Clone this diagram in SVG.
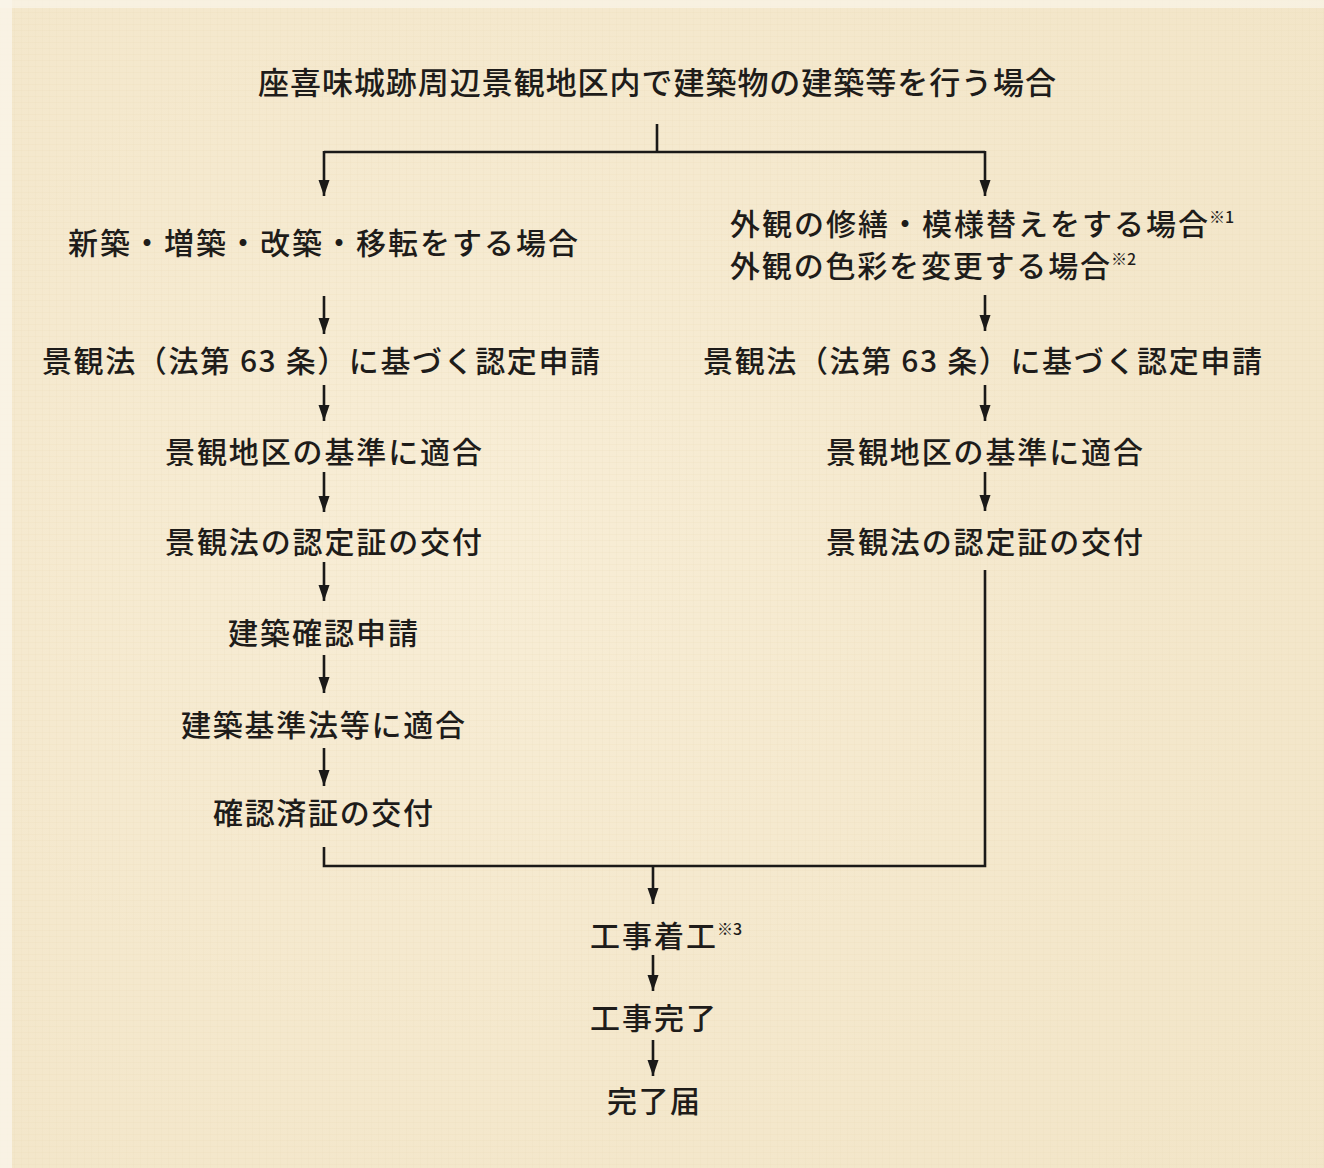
<svg xmlns="http://www.w3.org/2000/svg" width="1324" height="1168" viewBox="0 0 1324 1168">
<style>
.t{font-family:"Noto Sans CJK JP","Noto Sans CJK SC",sans-serif;font-size:30px;font-weight:500;fill:#1e1c1a;}
.title{font-size:31px;}
.sup{font-family:"Noto Sans CJK JP",sans-serif;font-size:16px;font-weight:500;fill:#1e1c1a;}
.c{fill:none;stroke:#1a1918;stroke-width:2.6;}
.a{fill:none;stroke:#1a1918;stroke-width:2.6;marker-end:url(#ah);}
</style>
<defs>
<marker id="ah" viewBox="0 -6 16 12" refX="16" refY="0" markerWidth="16" markerHeight="12" markerUnits="userSpaceOnUse" orient="auto">
<path d="M0,-5.5 L16,0 L0,5.5 z" fill="#1a1918"/>
</marker>
<radialGradient id="g1" cx="0.35" cy="0.45" r="0.75">
<stop offset="0" stop-color="#f9efd9" stop-opacity="0.7"/>
<stop offset="1" stop-color="#efe0bf" stop-opacity="0.5"/>
</radialGradient>
<pattern id="tex" width="7" height="6" patternUnits="userSpaceOnUse">
<path d="M0,0.5 H7" stroke="#e5d5b2" stroke-width="0.6" opacity="0.3"/>
<path d="M0.5,0 V6" stroke="#e8d9b8" stroke-width="0.5" opacity="0.3"/>
</pattern>
</defs>
<rect width="1324" height="1168" fill="#f6ebd2"/>
<rect width="1324" height="1168" fill="url(#g1)"/>
<rect width="1324" height="1168" fill="url(#tex)"/>
<rect x="0" y="0" width="12" height="1168" fill="#faf5ea" opacity="0.8"/>
<rect x="0" y="0" width="1324" height="8" fill="#faf5ea" opacity="0.7"/>

<g id="connectors">
<path class="c" d="M657,124 V152"/>
<path class="c" d="M324,152 H985"/>
<path class="a" d="M324,151 V196"/>
<path class="a" d="M985,151 V196"/>
<path class="a" d="M324,296 V334"/>
<path class="a" d="M324,385 V421"/>
<path class="a" d="M324,472 V512"/>
<path class="a" d="M324,562 V601"/>
<path class="a" d="M324,655 V693"/>
<path class="a" d="M324,748 V786"/>
<path class="a" d="M985,295 V331"/>
<path class="a" d="M985,385 V421"/>
<path class="a" d="M985,472 V511"/>
<path class="c" d="M324,847 V866 H985 V570"/>
<path class="a" d="M653,866 V904"/>
<path class="a" d="M653,955 V991"/>
<path class="a" d="M653,1040 V1076"/>
</g>

<g id="n-title"><text class="t title" x="258" y="94" textLength="798" lengthAdjust="spacing">座喜味城跡周辺景観地区内で建築物の建築等を行う場合</text></g>

<g id="n-l1"><text class="t" x="68" y="254" textLength="510" lengthAdjust="spacing">新築・増築・改築・移転をする場合</text></g>
<g id="n-l2"><text class="t" x="42" y="372" textLength="558" lengthAdjust="spacing">景観法（法第 63 条）に基づく認定申請</text></g>
<g id="n-l3"><text class="t" x="165" y="463" textLength="317" lengthAdjust="spacing">景観地区の基準に適合</text></g>
<g id="n-l4"><text class="t" x="165" y="553" textLength="317" lengthAdjust="spacing">景観法の認定証の交付</text></g>
<g id="n-l5"><text class="t" x="228" y="644" textLength="190" lengthAdjust="spacing">建築確認申請</text></g>
<g id="n-l6"><text class="t" x="181" y="736" textLength="284" lengthAdjust="spacing">建築基準法等に適合</text></g>
<g id="n-l7"><text class="t" x="213" y="824" textLength="220" lengthAdjust="spacing">確認済証の交付</text></g>

<g id="n-r1">
<text class="t" x="730" y="235" textLength="478" lengthAdjust="spacing">外観の修繕・模様替えをする場合</text>
<text class="sup" x="1209" y="223">※1</text>
<text class="t" x="730" y="277" textLength="380" lengthAdjust="spacing">外観の色彩を変更する場合</text>
<text class="sup" x="1111" y="265">※2</text>
</g>
<g id="n-r2"><text class="t" x="703" y="372" textLength="559" lengthAdjust="spacing">景観法（法第 63 条）に基づく認定申請</text></g>
<g id="n-r3"><text class="t" x="826" y="463" textLength="317" lengthAdjust="spacing">景観地区の基準に適合</text></g>
<g id="n-r4"><text class="t" x="826" y="553" textLength="317" lengthAdjust="spacing">景観法の認定証の交付</text></g>

<g id="n-b1"><text class="t" x="590" y="947" textLength="126" lengthAdjust="spacing">工事着工</text><text class="sup" x="717" y="935">※3</text></g>
<g id="n-b2"><text class="t" x="590" y="1029" textLength="126" lengthAdjust="spacing">工事完了</text></g>
<g id="n-b3"><text class="t" x="607" y="1112" textLength="93" lengthAdjust="spacing">完了届</text></g>
</svg>
